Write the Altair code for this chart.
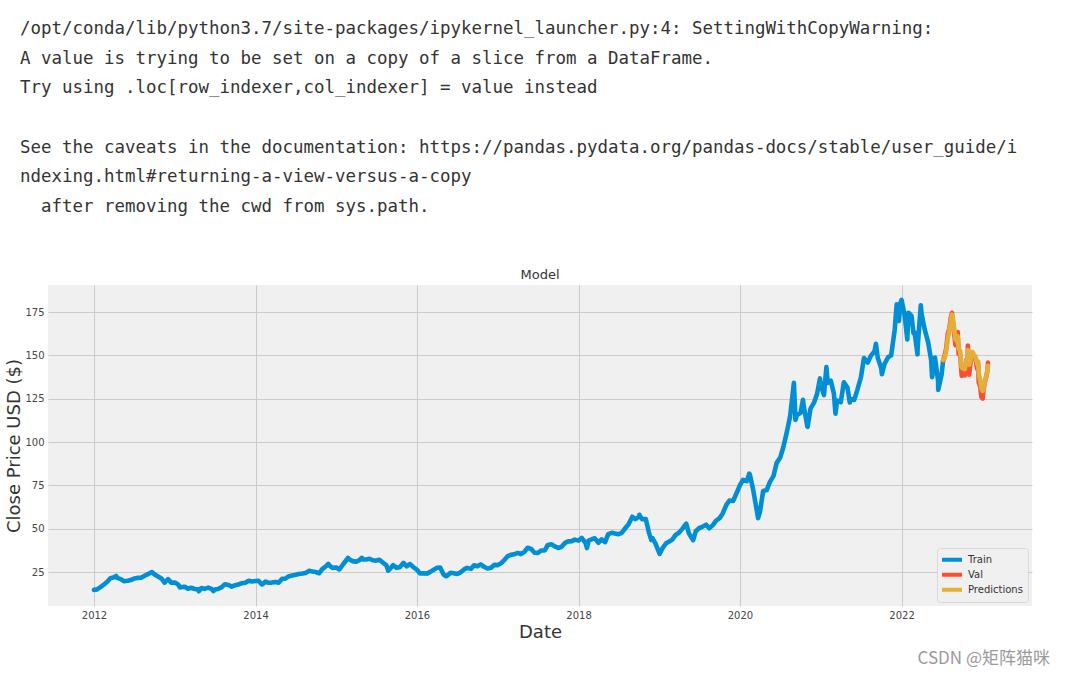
import altair as alt
import pandas as pd

# ---- values (semi-monthly, 1st and 15th) ----
close_2012 = [14.7, 15.0, 16.4, 17.8, 19.4, 21.4, 22.0, 21.6, 20.9, 19.7, 20.0, 20.4,
              21.2, 21.6, 21.7, 22.7, 23.8, 24.7, 23.6, 22.6, 21.3, 18.9, 20.9, 18.9]
close_2013 = [19.0, 17.9, 16.4, 16.5, 15.4, 15.9, 15.2, 15.0, 15.8, 15.3, 16.0, 15.3,
              14.9, 15.2, 16.3, 17.9, 17.5, 16.6, 17.4, 17.8, 18.6, 18.8, 20.0, 19.5]
close_2014 = [19.8, 19.9, 17.9, 19.5, 18.8, 18.9, 19.3, 18.8, 21.1, 21.2, 22.6, 23.0,
              23.4, 23.9, 24.2, 24.5, 25.7, 25.3, 25.0, 24.3, 27.0, 28.3, 28.8, 27.4]
close_2015 = [27.6, 26.5, 29.5, 31.8, 32.3, 31.3, 31.0, 31.8, 32.2, 32.2, 32.6, 31.8,
              31.6, 32.1, 30.3, 29.0, 26.8, 29.0, 27.4, 27.8, 30.3, 28.3, 29.6, 27.9]
close_2016 = [26.3, 24.2, 24.3, 24.1, 25.1, 26.2, 27.5, 27.6, 23.4, 22.7, 24.6, 24.3,
              23.9, 24.7, 26.5, 27.4, 26.8, 28.9, 28.3, 29.4, 27.9, 27.0, 27.5, 29.1]
close_2017 = [29.0, 30.0, 32.2, 34.2, 34.9, 35.2, 36.0, 35.3, 36.6, 39.0, 38.3, 36.2,
              36.0, 37.4, 37.5, 40.6, 41.0, 39.8, 38.9, 39.4, 41.8, 42.7, 42.8, 43.7]
close_2018 = [43.1, 44.7, 41.9, 43.1, 43.8, 44.5, 41.9, 43.8, 42.3, 46.9, 47.6, 47.2,
              46.8, 47.6, 50.4, 52.6, 56.9, 55.5, 56.8, 55.5, 55.6, 47.9, 44.6, 41.4]
close_2019 = [36.0, 38.6, 41.6, 42.6, 43.7, 46.3, 47.8, 49.9, 52.6, 47.3, 43.8, 48.5,
              50.4, 51.1, 52.3, 50.2, 52.2, 54.7, 56.1, 58.8, 63.9, 66.3, 66.0, 70.0]
close_2020 = [75.1, 78.2, 77.4, 81.2, 72.3, 62.0, 60.2, 71.8, 72.3, 76.9, 80.5, 88.0,
              91.0, 97.0, 106.3, 115.0, 134.2, 115.5, 116.8, 121.0, 108.9, 119.3, 122.7, 127.9]
close_2021 = [132.7, 127.1, 134.1, 135.4, 127.8, 123.9, 123.0, 134.5, 131.5, 124.9, 124.3, 130.1,
              137.3, 148.5, 145.9, 149.7, 152.5, 148.8, 142.6, 144.8, 148.9, 150.0, 164.8, 172.3]
close_2022 = [182.0, 173.1, 174.6, 172.8, 163.2, 155.1, 174.3, 165.3, 157.6, 147.1, 148.7, 135.4,
              138.9]

# extra train points at visible spikes / dips
extra_dates = ["2012-04-10", "2012-09-19", "2013-01-24", "2013-04-19", "2013-06-24",
               "2014-01-28", "2014-11-26", "2015-02-23", "2015-04-27", "2015-08-24",
               "2016-04-27", "2016-05-12", "2018-02-08", "2018-10-03", "2018-11-26",
               "2019-01-03", "2019-05-03", "2019-06-03", "2020-02-12", "2020-03-23",
               "2020-09-08", "2020-10-12", "2020-11-02", "2020-12-28", "2021-01-26",
               "2021-03-08", "2021-05-12", "2021-09-07", "2021-10-04", "2021-12-10",
               "2021-12-20", "2021-12-27", "2022-01-27", "2022-02-24", "2022-03-14",
               "2022-03-29", "2022-05-19", "2022-06-16", "2022-07-08"]
extra_close = [22.7, 25.0, 16.1, 13.9, 14.0,
               17.9, 29.7, 33.2, 33.2, 25.8,
               24.4, 22.6, 38.8, 58.0, 43.5,
               35.5, 52.9, 43.3, 81.8, 56.1,
               112.8, 124.4, 108.8, 136.7, 143.2,
               116.4, 122.8, 156.7, 139.1, 179.5,
               169.8, 180.3, 159.2, 162.7, 150.6,
               178.9, 137.4, 130.1, 147.0]

val_dates = ["2022-07-08", "2022-07-15", "2022-07-22", "2022-07-29", "2022-08-05",
             "2022-08-12", "2022-08-17", "2022-08-19", "2022-08-26", "2022-09-02",
             "2022-09-09", "2022-09-12", "2022-09-16", "2022-09-23", "2022-09-30",
             "2022-10-07", "2022-10-13", "2022-10-14", "2022-10-21", "2022-10-27",
             "2022-10-28", "2022-11-03", "2022-11-10", "2022-11-15", "2022-11-18",
             "2022-11-25", "2022-12-01", "2022-12-09", "2022-12-13", "2022-12-16",
             "2022-12-23", "2022-12-28", "2023-01-03", "2023-01-06", "2023-01-13",
             "2023-01-20", "2023-01-25", "2023-01-27"]
val_close = [147.0, 150.2, 154.1, 162.5, 165.4,
             172.1, 174.6, 171.5, 163.6, 155.8,
             157.4, 163.4, 150.7, 150.4, 138.2,
             140.1, 143.0, 138.4, 147.3, 144.8,
             155.7, 138.9, 146.9, 150.0, 151.3,
             148.1, 148.3, 142.2, 145.5, 134.5,
             131.9, 126.0, 125.1, 129.6, 134.8,
             137.9, 141.9, 145.9]
pred_close = [147.5, 148.5, 152.5, 159.5, 164.0,
              170.0, 173.5, 173.0, 166.5, 159.5,
              158.0, 161.0, 154.0, 152.5, 143.0,
              142.5, 144.5, 142.0, 147.0, 147.0,
              153.0, 144.5, 147.5, 150.5, 152.0,
              150.0, 149.5, 145.0, 146.5, 139.5,
              135.5, 131.0, 129.5, 131.0, 135.5,
              138.5, 141.5, 144.0]

series_names = ["Train", "Val", "Predictions"]
series_colors = ["#008fd5", "#fc4f30", "#e5ae38"]
y_ticks = [25, 50, 75, 100, 125, 150, 175]
x_tick_years = [2012, 2014, 2016, 2018, 2020, 2022]

notes_a = ["/opt/conda/lib/python3.7/site-packages/ipykernel_launcher.py:4: SettingWithCopyWarning:",
           "A value is trying to be set on a copy of a slice from a DataFrame.",
           "Try using .loc[row_indexer,col_indexer] = value instead"]
notes_b = ["See the caveats in the documentation: https://pandas.pydata.org/pandas-docs/stable/user_guide/i",
           "ndexing.html#returning-a-view-versus-a-copy"]
notes_c = "after removing the cwd from sys.path."
chart_title = "Model"
watermark = "CSDN @矩阵猫咪"

# ---- build table ----
grid_dates = pd.date_range("2012-01-01", "2022-07-01", freq="SMS")
train_vals = (close_2012 + close_2013 + close_2014 + close_2015 + close_2016 + close_2017 +
              close_2018 + close_2019 + close_2020 + close_2021 + close_2022)
assert len(grid_dates) == len(train_vals)
train = pd.DataFrame({"date": list(grid_dates) + list(pd.to_datetime(extra_dates)),
                      "close": train_vals + extra_close})
train = train.sort_values("date")
train["series"] = "Train"
val = pd.DataFrame({"date": pd.to_datetime(val_dates), "close": val_close, "series": "Val"})
pred = pd.DataFrame({"date": pd.to_datetime(val_dates), "close": pred_close, "series": "Predictions"})
df = pd.concat([train, val, pred], ignore_index=True)
df["order"] = range(len(df))

x_enc = alt.X("date:T", title="Date",
              scale=alt.Scale(domain=[alt.DateTime(year=2011, month=6, date=7),
                                      alt.DateTime(year=2023, month=8, date=14)]),
              axis=alt.Axis(values=[alt.DateTime(year=y, month=1, date=1) for y in x_tick_years],
                            format="%Y", labelPadding=4, titlePadding=3))
y_enc = alt.Y("close:Q", title="Close Price USD ($)",
              scale=alt.Scale(domain=[5.4, 190.6], nice=False, zero=False),
              axis=alt.Axis(values=y_ticks, labelPadding=4, titlePadding=1))
c_enc = alt.Color("series:N",
                  scale=alt.Scale(domain=series_names, range=series_colors),
                  legend=alt.Legend(title=None, orient="none", legendX=889, legendY=263,
                                    symbolType="M-1.75,0L3.5,0", symbolStrokeWidth=4, symbolSize=64,
                                    labelFontSize=10, labelFont="DejaVu Sans", labelColor="#333333",
                                    fillColor="#f0f0f0", strokeColor="#d8d8d8", padding=5,
                                    cornerRadius=3, rowPadding=1, clipHeight=13.5, labelOffset=14))

base = alt.Chart(df)
layers = []
for name in series_names:
    layers.append(
        base.transform_filter(alt.datum.series == name)
        .mark_line(strokeWidth=4.6, strokeJoin="round", strokeCap="round")
        .encode(x=x_enc, y=y_enc, color=c_enc, order="order:Q")
    )

one = pd.DataFrame({"k": [0]})
mono = dict(font="DejaVu Sans Mono", fontSize=17.45, lineHeight=29.67,
            align="left", baseline="alphabetic", color="#333333")
notes_a_layer = alt.Chart(one).mark_text(text=notes_a, **mono).encode(
    x=alt.value(-28), y=alt.value(-251))
notes_b_layer = alt.Chart(one).mark_text(text=notes_b, **mono).encode(
    x=alt.value(-28), y=alt.value(-132.3))
notes_c_layer = alt.Chart(one).mark_text(text=notes_c, **mono).encode(
    x=alt.value(-7), y=alt.value(-73))
title_layer = alt.Chart(one).mark_text(
    text=chart_title, font="DejaVu Sans", fontSize=13,
    align="center", baseline="alphabetic", color="#333333"
).encode(x=alt.value(492), y=alt.value(-6.5))
wm_layer = alt.Chart(one).mark_text(
    text=watermark, font="Noto Sans CJK SC", fontSize=17,
    align="right", baseline="alphabetic", color="#9a9a9a"
).encode(x=alt.value(1002), y=alt.value(379))

chart = alt.layer(*layers, notes_a_layer, notes_b_layer, notes_c_layer,
                  title_layer, wm_layer).properties(
    width=984, height=321,
    autosize=alt.AutoSizeParams(type="none"),
    padding={"left": 48, "top": 285, "right": 33, "bottom": 69},
).configure_view(fill="#f0f0f0", strokeWidth=0).configure_axis(
    domain=False, ticks=False, gridColor="#cbcbcb", gridWidth=1,
    labelFont="DejaVu Sans", labelFontSize=10, labelColor="#444444",
    titleFont="DejaVu Sans", titleFontSize=18, titleFontWeight="normal", titleColor="#333333"
)

chart.save("out.html", embed_options={"renderer": "svg", "actions": False})
